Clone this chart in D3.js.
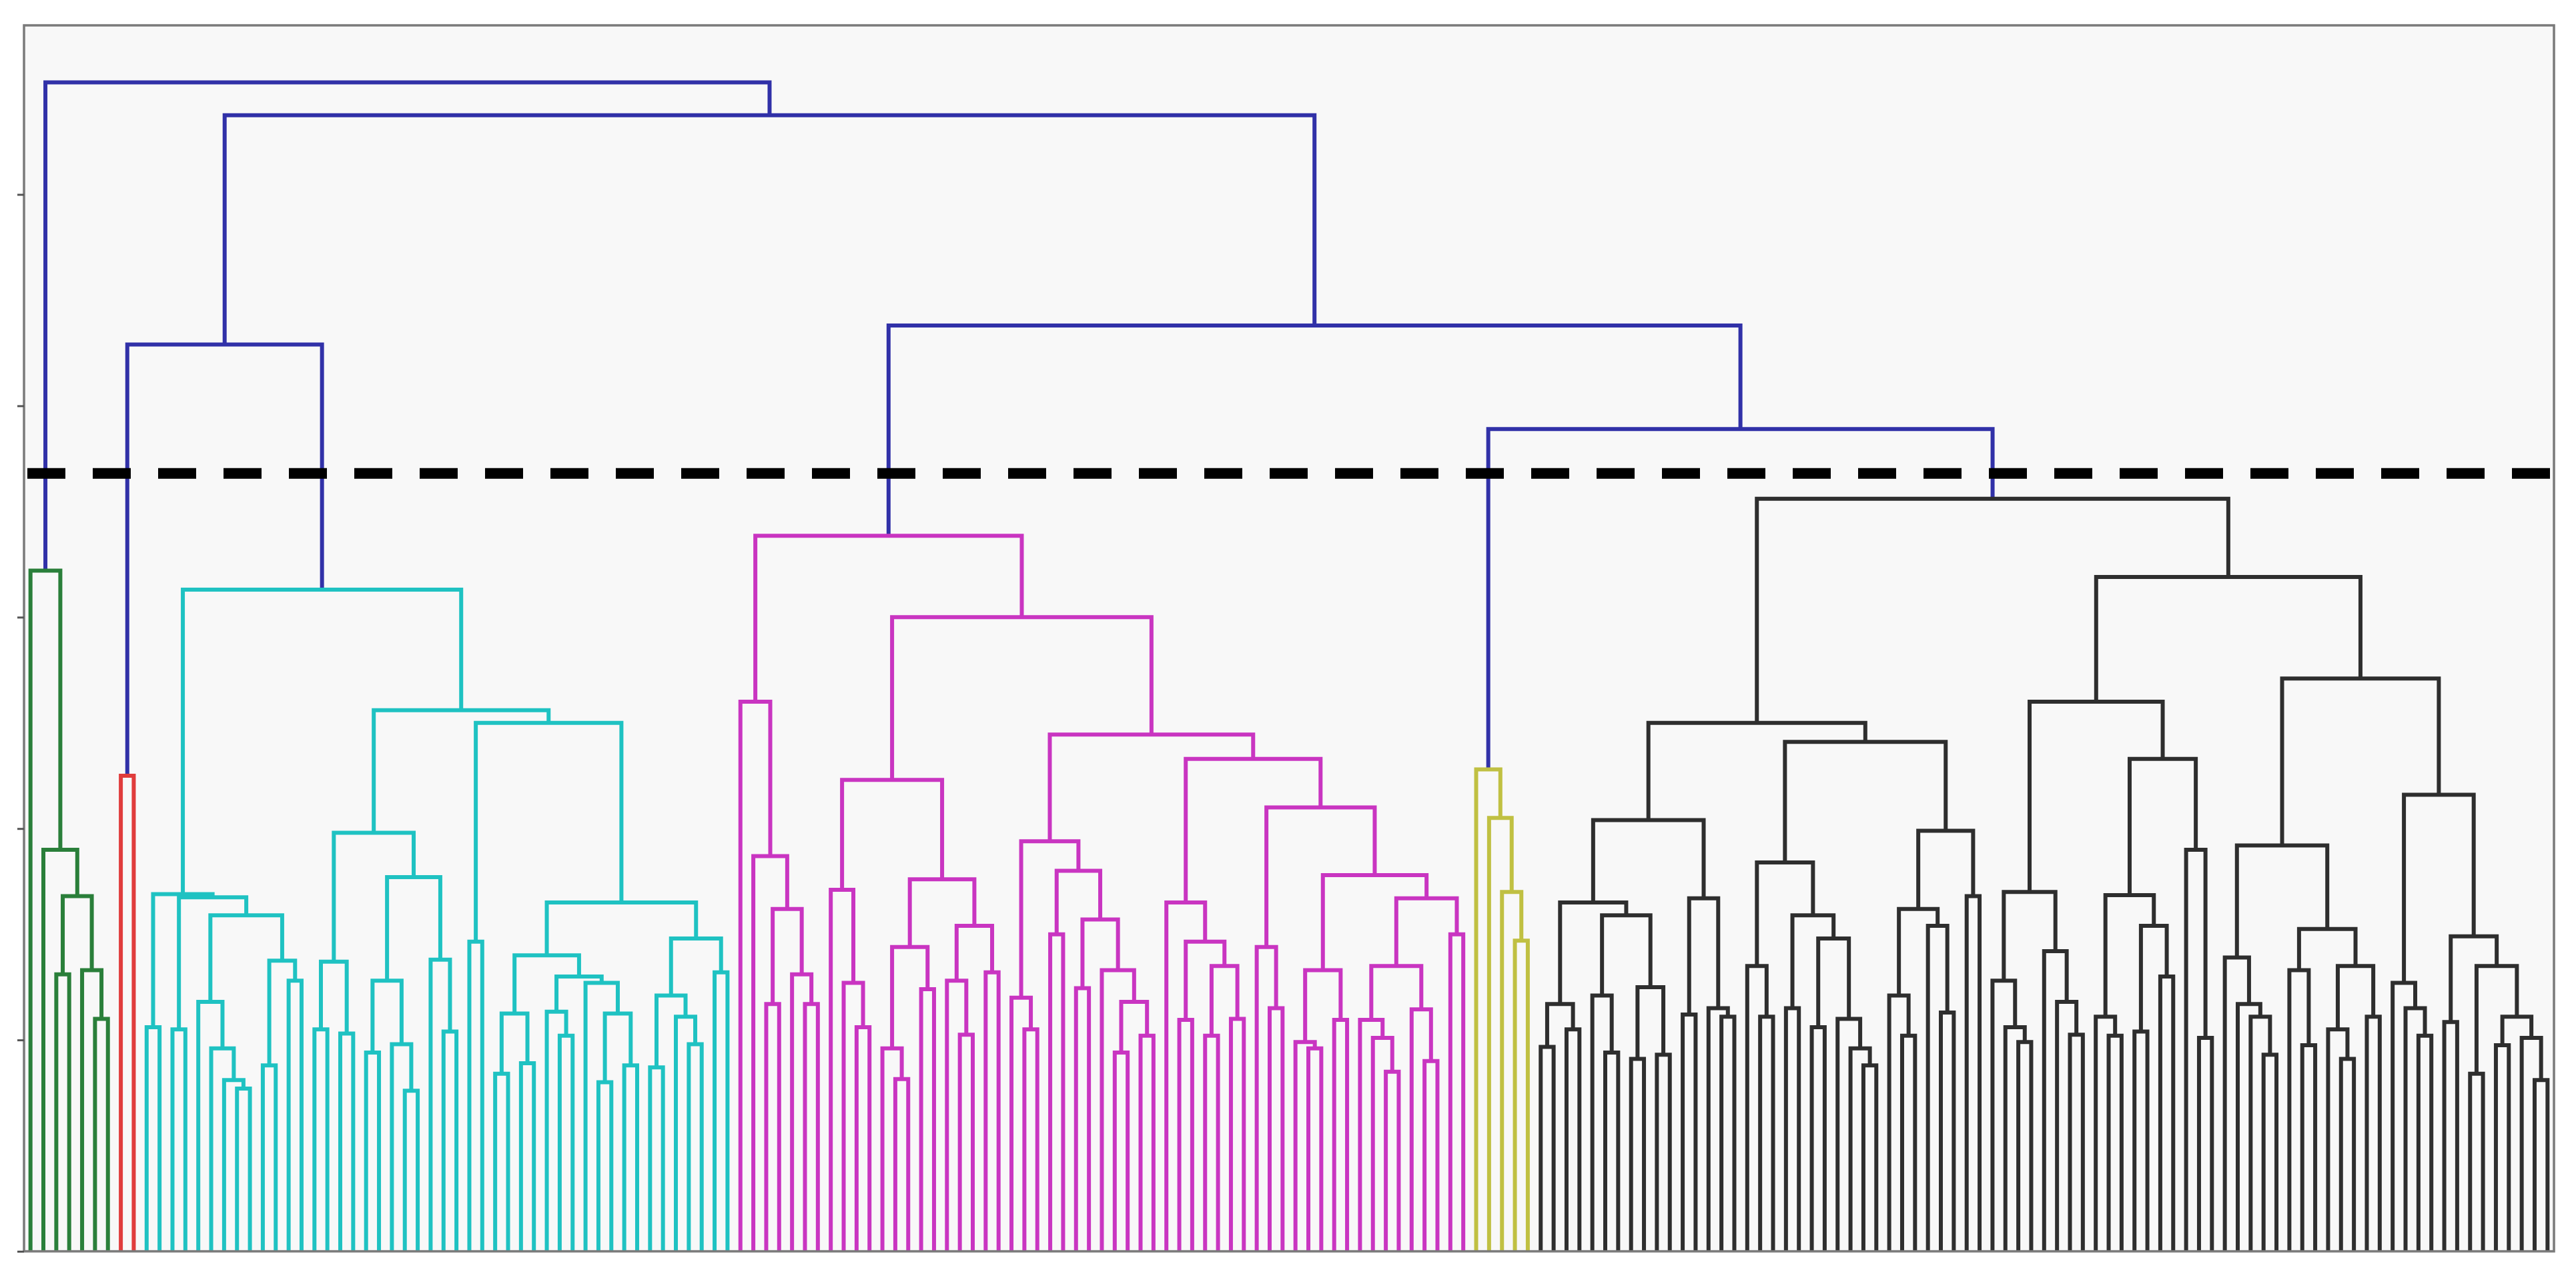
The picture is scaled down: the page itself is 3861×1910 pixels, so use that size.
<!DOCTYPE html>
<html>
<head>
<meta charset="utf-8">
<script src="https://cdn.jsdelivr.net/npm/d3@7"></script>
<style>
  html, body { margin: 0; padding: 0; background: #ffffff; }
  svg { display: block; }
</style>
</head>
<body>
<div id="chart"></div>
<script>
// leaf marker
const L = 0;

// each merge is [height, left, right], leaves are L
const greenTree = [3.22, L, [1.90, L, [1.68, [1.31, L, L], [1.33, L, [1.10, L, L]]]]];

const redTree = [2.25, L, L];

const cyanTree = [3.13,
    [1.69, [1.06, L, L],
           [1.675, [1.05, L, L],
                   [1.59, [1.18, L, [0.96, L, [0.81, L, [0.77, L, L]]]],
                          [1.375, [0.88, L, L], [1.28, L, L]]]]],
    [2.56,
        [1.98, [1.37, [1.05, L, L], [1.03, L, L]],
               [1.77, [1.28, [0.94, L, L], [0.98, L, [0.76, L, L]]],
                      [1.38, L, [1.04, L, L]]]],
        [2.50, [1.465, L, L],
               [1.65, [1.40, [1.125, [0.84, L, L], [0.89, L, L]],
                             [1.30, [1.134, L, [1.02, L, L]],
                                    [1.27, L, [1.125, [0.80, L, L], [0.88, L, L]]]]],
                      [1.48, [1.21, [0.87, L, L], [1.11, L, [0.98, L, L]]],
                             [1.32, L, L]]]]]];

const magentaTree = [3.385,
    [2.60, L, [1.87, L, [1.62, [1.17, L, L], [1.31, L, [1.17, L, L]]]]],
    [3.00,
        [2.23, [1.71, L, [1.27, L, [1.06, L, L]]],
               [1.76, [1.44, [0.96, L, [0.815, L, L]], [1.24, L, L]],
                      [1.54, [1.28, L, [1.025, L, L]], [1.32, L, L]]]],
        [2.445,
            [1.94, [1.20, L, [1.05, L, L]],
                   [1.80, [1.50, L, L],
                          [1.57, [1.245, L, L],
                                 [1.33, L, [1.18, [0.94, L, L], [1.02, L, L]]]]]],
            [2.33,
                [1.65, L, [1.465, [1.095, L, L], [1.35, [1.02, L, L], [1.10, L, L]]]],
                [2.10, [1.44, L, [1.15, L, L]],
                       [1.78, [1.33, [0.99, L, [0.96, L, L]], [1.095, L, L]],
                              [1.67, [1.35, [1.095, L, [1.01, L, [0.85, L, L]]], [1.145, L, [0.90, L, L]]],
                                     [1.50, L, L]]]]]]]];

const yellowTree = [2.28, L, [2.05, L, [1.70, L, [1.47, L, L]]]];

const blackTree = [3.56,
    [2.50,
        [2.04,
            [1.65, [1.17, [0.967, L, L], [1.05, L, L]],
                   [1.59, [1.21, L, [0.94, L, L]], [1.25, [0.91, L, L], [0.93, L, L]]]],
            [1.67, [1.12, L, L], [1.15, L, [1.11, L, L]]]],
        [2.41,
            [1.84, [1.35, L, [1.11, L, L]],
                   [1.59, [1.15, L, L], [1.48, [1.06, L, L], [1.10, L, [0.96, L, [0.88, L, L]]]]]],
            [1.99, [1.62, [1.21, L, [1.02, L, L]], [1.54, L, [1.13, L, L]]],
                   [1.68, L, L]]]],
    [3.19,
        [2.60,
            [1.70, [1.28, L, [1.06, L, [0.99, L, L]]], [1.42, L, [1.18, L, [1.025, L, L]]]],
            [2.33, [1.685, [1.11, L, [1.02, L, L]], [1.54, [1.04, L, L], [1.30, L, L]]],
                   [1.90, L, [1.01, L, L]]]],
        [2.71,
            [1.92, [1.39, L, [1.17, L, [1.11, L, [0.93, L, L]]]],
                   [1.525, [1.33, L, [0.975, L, L]], [1.35, [1.05, L, [0.91, L, L]], [1.11, L, L]]]],
            [2.16, [1.27, L, [1.15, L, [1.02, L, L]]],
                   [1.49, [1.085, L, L],
                          [1.35, [0.84, L, L],
                                 [1.11, [0.975, L, L], [1.01, L, [0.81, L, L]]]]]]]]];

// merges above the cut, joining the clusters by name
const trunk = [5.53, "green", [5.375, [4.29, "red", "cyan"], [4.38, "magenta", [3.89, "yellow", "black"]]]];

const clusterNames = ["green", "red", "cyan", "magenta", "yellow", "black"];
const clusterTrees = [greenTree, redTree, cyanTree, magentaTree, yellowTree, blackTree];
const clusterColors = ["#2a7f3a", "#e03c3c", "#1fc2c2", "#c935c1", "#c0c042", "#2e2e2e"];
const trunkColor = "#3131a8";

const cutHeight = 3.68;
const yTicks = [0, 1, 2, 3, 4, 5];

const margin = {top: 38, right: 33, bottom: 34, left: 36};
const width = 3861 - margin.left - margin.right;
const height = 1910 - margin.top - margin.bottom;

const svg = d3.select("#chart").append("svg")
    .attr("width", 3861)
    .attr("height", 1910)
    .append("g")
    .attr("transform", "translate(" + margin.left + "," + margin.top + ")");

// turn the nested arrays into a hierarchy, carrying the link colour down
function expand(node, color) {
    if (typeof node === "string") {
        const i = clusterNames.indexOf(node);
        return expand(clusterTrees[i], clusterColors[i]);
    }
    if (node === L) return {h: 0, color: color};
    return {h: node[0], color: color, children: [expand(node[1], color), expand(node[2], color)]};
}

const root = d3.hierarchy(expand(trunk, trunkColor));
const leaves = root.leaves();

const x = d3.scaleLinear()
    .domain([0, leaves.length])
    .range([0, width]);

const y = d3.scaleLinear()
    .domain([0, 5.8])
    .range([height, 0]);

leaves.forEach((d, i) => d.x = x(i + 0.5));
root.eachAfter(d => {
    if (d.children) d.x = (d.children[0].x + d.children[1].x) / 2;
});

// axes background
svg.append("rect")
    .attr("width", width)
    .attr("height", height)
    .attr("fill", "#f8f8f8");

// one U-shaped link per merge
const merges = root.descendants().filter(d => d.children);

svg.selectAll(".link")
    .data(merges)
    .enter().append("path")
    .attr("class", "link")
    .attr("fill", "none")
    .attr("stroke", d => d.data.color)
    .attr("stroke-width", 6)
    .attr("stroke-linejoin", "miter")
    .attr("d", d => {
        const a = d.children[0], b = d.children[1];
        return "M" + a.x + "," + y(a.data.h) +
            "V" + y(d.data.h) +
            "H" + b.x +
            "V" + y(b.data.h);
    });

// cut line
svg.append("line")
    .attr("x1", 0)
    .attr("x2", width)
    .attr("y1", y(cutHeight))
    .attr("y2", y(cutHeight))
    .attr("stroke", "#000")
    .attr("stroke-width", 16)
    .attr("stroke-dasharray", "57,41")
    .attr("stroke-dashoffset", -5);

// frame
svg.append("rect")
    .attr("width", width)
    .attr("height", height)
    .attr("fill", "none")
    .attr("stroke", "#7a7a7a")
    .attr("stroke-width", 3.5);

// y ticks without labels (cropped off in the original)
const yAxis = d3.axisLeft(y).tickValues(yTicks).tickSize(10).tickFormat("");
const gy = svg.append("g").call(yAxis);
gy.select(".domain").remove();
gy.selectAll("line").attr("stroke", "#555").attr("stroke-width", 3);
</script>
</body>
</html>
